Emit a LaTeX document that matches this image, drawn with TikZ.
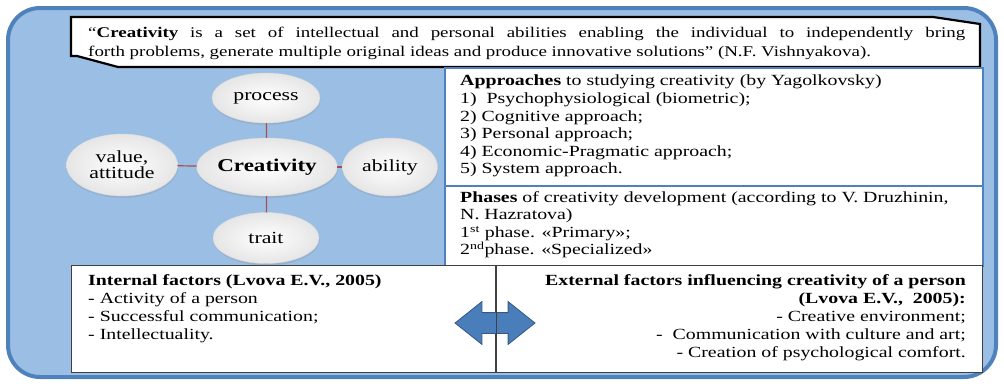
\documentclass[tikz,border=0pt]{standalone}
\usepackage{fontspec}
\setmainfont{Liberation Serif}[FakeStretch=1.28]
\usetikzlibrary{shapes.geometric,shapes.arrows,shadows}

\definecolor{frameblue}{RGB}{79,129,189}
\definecolor{framefill}{RGB}{155,190,228}
\definecolor{linkred}{RGB}{165,80,78}
\definecolor{arrowblue}{RGB}{74,126,187}

\tikzset{
  bubble/.style={ellipse, draw=gray!30, inner sep=0pt, inner color=white, outer color=gray!20,
    drop shadow={opacity=0.2, shadow xshift=0.5pt, shadow yshift=-2pt},
    align=center, font=\fontsize{17}{16}\selectfont},
  link/.style={draw=linkred, line width=1.2pt},
  panel/.style={draw=frameblue, line width=1.5pt, fill=white, inner sep=0pt, anchor=north west},
  factbox/.style={draw=black!75, line width=1pt, fill=white, inner sep=0pt, anchor=north west},
  txt/.style={inner sep=0pt, anchor=north west, align=left, font=\fontsize{15.5}{17.6}\selectfont},
}

\begin{document}
\begin{tikzpicture}[x=1pt,y=-1pt]
    \useasboundingbox (0,0) rectangle (1004,383);
    \draw[frameblue, fill=framefill, line width=4pt, rounded corners=32pt] (8,8) rectangle (996,377);

    % definition callout
    \draw[black, line width=2.2pt, fill=white] (71,17) -- (933,17) -- (980,24) -- (980,67) -- (118,67) -- (77,56) -- (71,56) -- cycle;
    \node[txt, text width=877pt, align=justify, font=\fontsize{14.8}{19}\selectfont] (quote) at (88,27)
        {“\textbf{Creativity} is a set of intellectual and personal abilities enabling the individual to independently bring\linebreak
         forth problems, generate multiple original ideas and produce innovative solutions\symbol{34} (N.F. Vishnyakova).};

    % approaches and phases
    \node[panel, minimum width=538pt, minimum height=118pt] (approaches) at (444,67) {};
    \node[txt] (apptext) at ([xshift=16pt, yshift=-8pt]approaches.north west)
        {\textbf{Approaches} to studying creativity (by Yagolkovsky)\\
         1)~ Psychophysiological (biometric);\\
         2) Cognitive approach;\\
         3) Personal approach;\\
         4) Economic-Pragmatic approach;\\
         5) System approach.};
    \node[panel, minimum width=538pt, minimum height=80pt] (phases) at (444,185) {};
    \node[txt] (phasetext) at ([xshift=16pt, yshift=-6pt]phases.north west)
        {\textbf{Phases} of creativity development (according to V. Druzhinin,\\
         N. Hazratova)\\
         1\textsuperscript{st} phase. «Primary»;\\
         2\textsuperscript{nd}phase. «Specialized»};

    % factors
    \node[factbox, minimum width=424pt, minimum height=107pt] (internal) at (71,265) {};
    \node[txt, font=\fontsize{15.5}{18}\selectfont] (inttext) at ([xshift=17pt, yshift=-9pt]internal.north west)
        {\textbf{Internal factors (Lvova E.V., 2005)}\\
         - Activity of a person\\
         - Successful communication;\\
         - Intellectuality.};
    \node[factbox, minimum width=487pt, minimum height=107pt] (external) at (495,265) {};
    \node[txt, anchor=north east, align=right, font=\fontsize{15.5}{18.2}\selectfont] (exttext) at ([xshift=-17pt, yshift=-9pt]external.north east)
        {\textbf{External factors influencing creativity of a person}\\
         \textbf{(Lvova E.V.,~ 2005):}\\
         - Creative environment;\\
         -~ Communication with culture and art;\\
         - Creation of psychological comfort.};
    \node[double arrow, fill=arrowblue, draw=arrowblue!70!black, line width=0.8pt, double arrow head extend=11pt,
          double arrow tip angle=77, text height=10pt, text depth=10pt, text width=0pt,
          minimum height=80pt, inner sep=0pt] (swap) at (495,323) {};
    \draw[black!75, line width=1pt] (internal.north east) -- (internal.south east);

    % facets of creativity
    \node[bubble, minimum width=108pt, minimum height=50pt] (process) at (266,98) {process};
    \node[bubble, minimum width=131pt, minimum height=58pt, font=\fontsize{18}{18}\selectfont\bfseries] (creativity) at (267,167) {Creativity};
    \node[bubble, minimum width=111pt, minimum height=62pt] (value) at (122,165) {value,\\attitude};
    \node[bubble, minimum width=95pt, minimum height=58pt] (ability) at (390,167) {ability};
    \node[bubble, minimum width=106pt, minimum height=51pt] (trait) at (266,238) {trait};
    \draw[link] (process) -- (creativity);
    \draw[link] (value) -- (creativity);
    \draw[link] (creativity) -- (ability);
    \draw[link] (creativity) -- (trait);
\end{tikzpicture}
\end{document}
